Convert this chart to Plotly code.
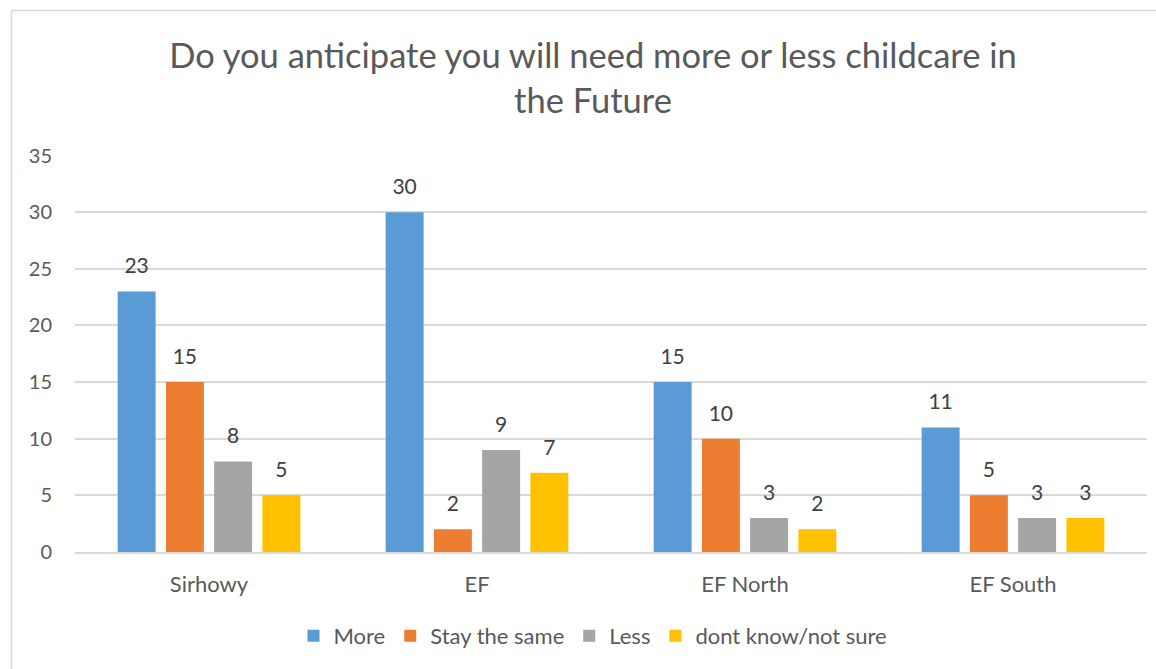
import plotly.graph_objects as go

categories = ["Sirhowy", "EF", "EF North", "EF South"]
series_names = ["More", "Stay the same", "Less", "dont know/not sure"]
more = [23, 30, 15, 11]
stay_same = [15, 2, 10, 5]
less = [8, 9, 3, 3]
dont_know = [5, 7, 2, 3]
y_ticks = [0, 5, 10, 15, 20, 25, 30, 35]

colors = ["#5B9BD5", "#ED7D31", "#A5A5A5", "#FFC000"]
series_values = [more, stay_same, less, dont_know]

FONT = "Lato"
fig = go.Figure()
for name, vals, col in zip(series_names, series_values, colors):
    fig.add_trace(go.Bar(
        x=categories, y=vals, name=name, marker=dict(color=col, line=dict(width=0)),
        offsetgroup=name, hoverinfo="skip"))
for name, vals, col in zip(series_names, series_values, colors):
    fig.add_trace(go.Scatter(
        x=categories, y=vals, mode="markers+text", text=[str(v) for v in vals],
        textposition="top center", textfont=dict(family=FONT, size=21, color="#404040"),
        marker=dict(size=19, opacity=0), offsetgroup=name, showlegend=False,
        hoverinfo="skip", cliponaxis=False))

L, R, T, B = 75, 9, 155, 117
W, H = 1156, 669
pw, ph = W - L - R, H - T - B
bx = (11.5 - L) / pw
by = (H - B - 10.5) / ph

fig.update_layout(
    width=W, height=H,
    margin=dict(l=L, r=R, t=T, b=B, autoexpand=False),
    paper_bgcolor="white", plot_bgcolor="white",
    barmode="group", scattermode="group",
    bargap=0.28, bargroupgap=0.213, scattergap=0.28,
    title=dict(text="Do you anticipate you will need more or less childcare in<br>the Future",
               x=593 / W, xanchor="center", xref="container",
               y=1 - 68 / H, yanchor="middle", yref="container",
               font=dict(family=FONT, size=34.5, color="#595959")),
    xaxis=dict(showgrid=False, showline=True, linecolor="#D9D9D9", linewidth=1.5,
               tickfont=dict(family=FONT, size=22, color="#595959"),
               ticks="", ticklabelstandoff=12, fixedrange=True),
    yaxis=dict(range=[0, 35.05], tickvals=y_ticks, showgrid=True, gridcolor="#D9D9D9",
               gridwidth=1.5, zeroline=False, showline=False,
               tickfont=dict(family=FONT, size=20, color="#595959"),
               ticks="", ticklabelstandoff=22),
    legend=dict(orientation="h", x=(593 - L) / pw, xref="paper", xanchor="center",
                y=(H - B - 636) / ph, yanchor="middle",
                font=dict(family=FONT, size=22, color="#595959"),
                traceorder="normal"),
    showlegend=True,
    shapes=[
        dict(type="line", xref="paper", yref="paper", x0=bx, x1=bx, y0=-0.5, y1=by,
             line=dict(color="#D9D9D9", width=1.5)),
        dict(type="line", xref="paper", yref="paper", x0=bx, x1=1.2, y0=by, y1=by,
             line=dict(color="#D9D9D9", width=1.5)),
    ],
)

fig.write_html("out.html", config={"displayModeBar": False},
               post_script="document.body.style.margin='0';")
